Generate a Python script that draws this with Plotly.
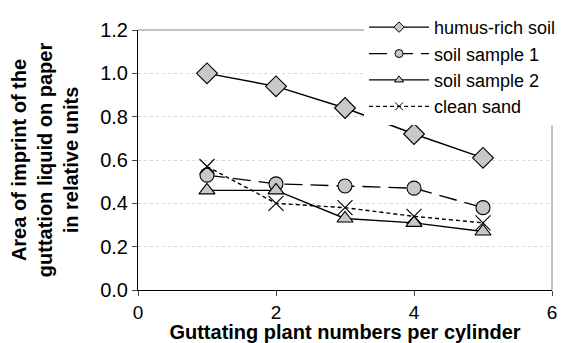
import plotly.graph_objects as go

x_vals = [1, 2, 3, 4, 5]
humus = [1.0, 0.94, 0.84, 0.72, 0.61]
soil1 = [0.53, 0.49, 0.48, 0.47, 0.38]
soil2 = [0.46, 0.46, 0.33, 0.31, 0.27]
sand = [0.57, 0.40, 0.38, 0.34, 0.31]
names = ["humus-rich soil", "soil sample 1", "soil sample 2", "clean sand"]

FONT = "Arial, Liberation Sans, sans-serif"
fill = "#c8c8c8"

styles = [
    dict(dash="solid", symbol="diamond", size=16, mcolor=fill),
    dict(dash="18px,8px", symbol="circle", size=14, mcolor=fill),
    dict(dash="solid", symbol="triangle-up", size=14, mcolor=fill),
    dict(dash="4px,3px", symbol="x-thin-open", size=15, mcolor="black"),
]
series = [humus, soil1, soil2, sand]

fig = go.Figure()
for i, (nm, ys, st) in enumerate(zip(names, series, styles)):
    fig.add_trace(go.Scatter(
        x=x_vals, y=ys, name=nm, mode="lines+markers", showlegend=False,
        legendgroup=nm,
        line=dict(color="black", width=1.4, dash=st["dash"]),
        marker=dict(symbol=st["symbol"], size=st["size"], color=st["mcolor"],
                    line=dict(color="black", width=1.1))))
    # legend-only entry with smaller symbol
    fig.add_trace(go.Scatter(
        x=[None], y=[None], name=nm, mode="lines+markers", showlegend=True,
        legendgroup=nm,
        line=dict(color="black", width=1.3, dash=st["dash"]),
        marker=dict(symbol=st["symbol"], size=8, color=st["mcolor"],
                    line=dict(color="black", width=1))))

# page has an 8px body margin: figure is offset by (8, 8)
fig.update_layout(
    width=569, height=335,
    margin=dict(l=130, r=25, t=22, b=53, autoexpand=False),
    paper_bgcolor="white", plot_bgcolor="white",
    font=dict(family=FONT, color="black", size=19),
    showlegend=True,
    legend=dict(x=0.546, y=1.081, xanchor="left", yanchor="top",
                bgcolor="white", font=dict(size=18, family=FONT),
                tracegroupgap=0, itemwidth=60, borderwidth=0),
    xaxis=dict(range=[0, 6], tickvals=[0, 2, 4, 6], ticks="outside", ticklen=5,
               showline=True, linecolor="black", linewidth=1, mirror=False,
               showgrid=False, zeroline=False, automargin=False,
               tickfont=dict(size=19),
               title=dict(text="<b>Guttating plant numbers per cylinder</b>",
                          font=dict(size=20), standoff=2)),
    yaxis=dict(range=[0, 1.2], tickvals=[0, 0.2, 0.4, 0.6, 0.8, 1.0, 1.2],
               tickformat=".1f", ticks="outside", ticklen=5,
               showline=True, linecolor="black", linewidth=1,
               showgrid=True, gridcolor="#d8d8d8", griddash="dot", gridwidth=1,
               zeroline=False, automargin=False, tickfont=dict(size=20),
               title=dict(text="<b>Area of imprint of the<br>guttation liquid on paper<br>in relative units</b>",
                          font=dict(size=20), standoff=26)),
)
# top and right frame lines (gray)
fig.add_shape(type="line", xref="paper", yref="paper", x0=0, x1=1, y0=1, y1=1,
              line=dict(color="#888888", width=1), layer="below")
fig.add_shape(type="line", xref="paper", yref="paper", x0=1, x1=1, y0=0, y1=1,
              line=dict(color="#888888", width=1), layer="below")

fig.write_html("out.html")
